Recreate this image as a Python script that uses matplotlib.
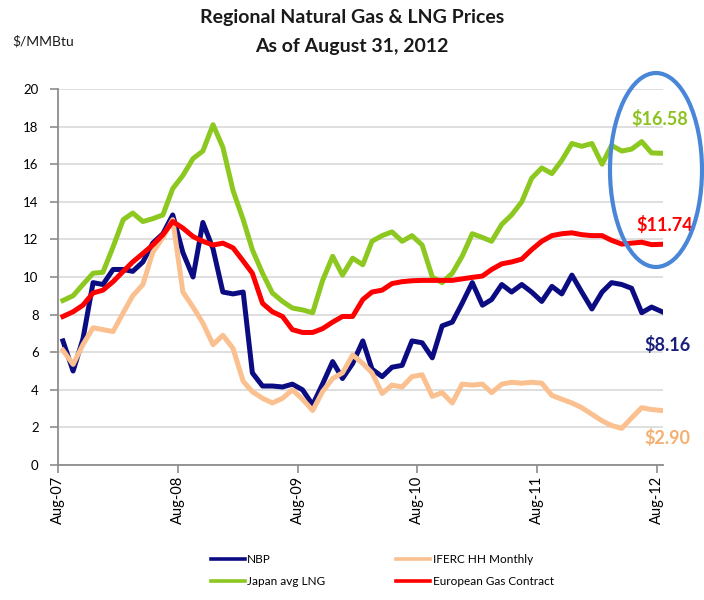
# Regional Natural Gas & LNG Prices, monthly, Aug-07 to Aug-12

import pandas as pd  # For the monthly dates
import matplotlib
matplotlib.use('Agg')
from matplotlib import pyplot as plt  # For the chart
import matplotlib.dates as mdates  # For the date axis
from matplotlib.patches import Ellipse  # For the circled end values

plt.rcParams['font.family'] = ['Lato', 'DejaVu Sans']

# Monthly prices in $/MMBtu, Aug-07 .. Aug-12 (61 months)
nbp = [6.6, 5.0, 6.7, 9.7, 9.6, 10.4, 10.4, 10.3, 10.8, 11.8, 12.3, 13.3,
       11.3, 10.0, 12.9, 11.5, 9.2, 9.1, 9.2, 4.9, 4.2, 4.2, 4.15, 4.3,
       4.0, 3.2, 4.3, 5.5, 4.6, 5.4, 6.6, 5.1, 4.7, 5.2, 5.3, 6.6,
       6.5, 5.7, 7.4, 7.6, 8.6, 9.7, 8.5, 8.8, 9.6, 9.2, 9.6, 9.2,
       8.7, 9.5, 9.1, 10.1, 9.2, 8.3, 9.2, 9.7, 9.6, 9.4, 8.1, 8.4,
       8.16]
japan_lng = [8.75, 9.0, 9.6, 10.2, 10.25, 11.6, 13.05, 13.4, 12.95, 13.1, 13.3, 14.7,
             15.4, 16.3, 16.7, 18.1, 16.9, 14.6, 13.05, 11.45, 10.2, 9.15, 8.7, 8.35,
             8.25, 8.1, 9.8, 11.1, 10.1, 11.0, 10.65, 11.9, 12.2, 12.4, 11.9, 12.2,
             11.7, 10.0, 9.7, 10.2, 11.1, 12.3, 12.1, 11.9, 12.8, 13.3, 14.0, 15.25,
             15.8, 15.5, 16.2, 17.1, 16.95, 17.1, 16.0, 17.0, 16.7, 16.8, 17.2, 16.6,
             16.58]
iferc_hh = [6.1, 5.35, 6.4, 7.3, 7.2, 7.1, 8.1, 9.0, 9.6, 11.3, 12.1, 13.05,
            9.2, 8.4, 7.55, 6.4, 6.9, 6.2, 4.45, 3.9, 3.55, 3.3, 3.55, 4.0,
            3.5, 2.9, 3.9, 4.6, 4.9, 5.85, 5.4, 4.9, 3.8, 4.25, 4.15, 4.7,
            4.8, 3.65, 3.85, 3.3, 4.3, 4.25, 4.3, 3.85, 4.3, 4.4, 4.35, 4.4,
            4.35, 3.7, 3.5, 3.3, 3.05, 2.7, 2.35, 2.1, 1.95, 2.5, 3.05, 2.95,
            2.90]
euro_contract = [7.9, 8.15, 8.5, 9.15, 9.3, 9.75, 10.3, 10.8, 11.25, 11.7, 12.25, 12.95,
                 12.6, 12.15, 11.9, 11.7, 11.8, 11.55, 10.85, 10.2, 8.6, 8.15, 7.9, 7.2,
                 7.05, 7.05, 7.25, 7.6, 7.9, 7.9, 8.8, 9.2, 9.3, 9.65, 9.75, 9.8,
                 9.82, 9.82, 9.82, 9.82, 9.9, 9.98, 10.05, 10.4, 10.7, 10.8, 10.95, 11.45,
                 11.9, 12.2, 12.3, 12.35, 12.25, 12.2, 12.2, 11.95, 11.75, 11.8, 11.85, 11.72,
                 11.74]

# Monthly averages plotted mid-month
months = pd.date_range('2007-08-01', periods=61, freq='MS') + pd.Timedelta(days=15)
year_ticks = pd.date_range('2007-08-01', '2012-08-01', freq='12MS')

series_names = ['NBP', 'Japan avg LNG', 'IFERC HH Monthly', 'European Gas Contract']
series_values = [nbp, japan_lng, iferc_hh, euro_contract]
series_colors = ['#0c0c82', '#8cc820', '#fac090', '#ff0000']
label_colors = ['#1a1f7a', '#8cc21f', '#f4b070', '#ff0000']
# offset of the end-value labels from the last point (points)
label_offsets = [(4, -24), (-1.5, 25), (4, -19.5), (2, 14)]

fig = plt.figure(figsize=(7.04, 6.0), dpi=100)
ax = fig.add_axes([0.0824, 0.225, 0.8594, 0.6267])

for name, vals, col in zip(series_names, series_values, series_colors):
    ax.plot(months, vals, color=col, linewidth=3.6, label=name, solid_joinstyle='round')

# End values next to each line
for vals, col, off in zip(series_values, label_colors, label_offsets):
    ax.annotate(f'${vals[-1]:.2f}', xy=(months[-1], vals[-1]), xytext=off,
                textcoords='offset points', ha='center', va='center',
                fontsize=13, fontweight='bold', color=col, annotation_clip=False)

# Axes styling
ax.set_ylim(0, 20)
ax.set_yticks(range(0, 21, 2))
ax.set_xlim(pd.Timestamp('2007-08-01'), pd.Timestamp('2012-08-20'))
ax.set_xticks(year_ticks)
ax.xaxis.set_major_formatter(mdates.DateFormatter('%b-%y'))
ax.tick_params(axis='x', rotation=90, labelsize=10.5, length=6, width=1.2, color='#8c8c8c', pad=2)
ax.tick_params(axis='y', labelsize=9.5, length=6, width=1.2, color='#8c8c8c', pad=8)
ax.grid(axis='y', color='#d9d9d9', linewidth=1.2)
ax.set_axisbelow(True)
for side in ['top', 'right']:
    ax.spines[side].set_visible(False)
for side in ['left', 'bottom']:
    ax.spines[side].set_color('#8c8c8c')
    ax.spines[side].set_linewidth(1.3)

# Titles
fig.text(0.50, 0.970, 'Regional Natural Gas & LNG Prices', ha='center', va='center',
         fontsize=14, fontweight='bold', color='#1a1a1a')
fig.text(0.50, 0.922, 'As of August 31, 2012', ha='center', va='center',
         fontsize=14, fontweight='bold', color='#1a1a1a')
fig.text(0.018, 0.932, '\\$/MMBtu', ha='left', va='center', fontsize=10, color='#1a1a1a')

# Circle round the latest LNG / European values
fig.add_artist(Ellipse((6.56, 4.30), 0.92, 1.94, transform=fig.dpi_scale_trans,
                       fill=False, edgecolor='#4a86d8', linewidth=3))

# Legend below the chart
handles, labels = ax.get_legend_handles_labels()
leg = fig.legend(handles, labels, loc='center', bbox_to_anchor=(0.543, 0.049), ncol=2,
                 frameon=False, fontsize=8.5, handlelength=2.9, handletextpad=0.2,
                 columnspacing=6.0, labelspacing=0.9)
for line in leg.get_lines():
    line.set_linewidth(2.6)

fig.savefig('out.png', dpi=100)
